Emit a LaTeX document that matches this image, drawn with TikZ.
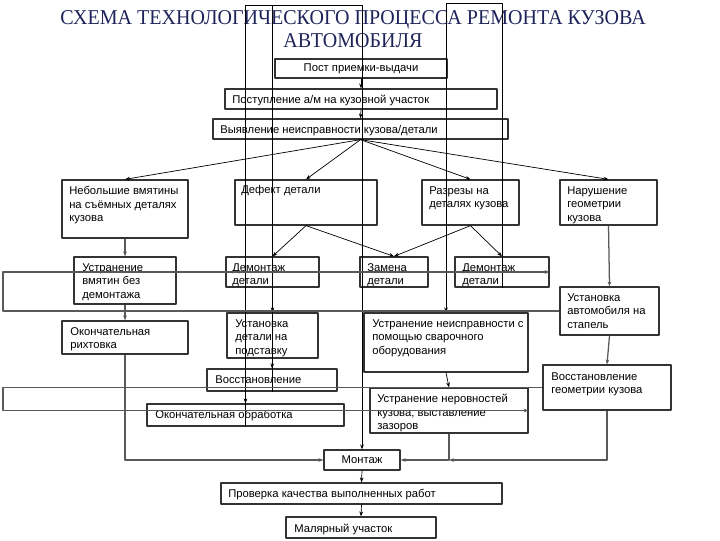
\documentclass[tikz,border=0pt]{standalone}
\usepackage{fontspec}
\setmainfont{Liberation Sans}
\newfontfamily\titlefont[FakeStretch=0.95]{Liberation Serif}
\usetikzlibrary{fit,arrows.meta}
\definecolor{navy}{RGB}{30,36,90}
\tikzset{
  box/.style={draw=black!80, line width=0.9pt, inner sep=0pt},
  txt/.style={anchor=north west, inner sep=0pt, align=left, font=\fontsize{8}{9.6}\selectfont},
  ln/.style={line width=0.5pt},
  gln/.style={draw=black!65, line width=0.9pt},
}
\begin{document}
\begin{tikzpicture}[x=0.025cm, y=-0.025cm, >={Stealth[length=3.5pt,width=2.6pt]}, line join=round]
  \useasboundingbox (0,0) rectangle (720,540);
  \coordinate (top) at (0,5); \coordinate (rtop) at (0,3); \coordinate (lft) at (3,0);
  \node[font=\titlefont\fontsize{15}{16.2}\selectfont, text=navy, align=center] (title) at (353,29)
    {СХЕМА ТЕХНОЛОГИЧЕСКОГО ПРОЦЕССА РЕМОНТА КУЗОВА\\АВТОМОБИЛЯ};
  % boxes
  \node[box, fit={(275,59) (447,78)}] (post) {};
  \node[box, fit={(225,89) (497,109)}] (postup) {};
  \node[box, fit={(213,119) (508,139)}] (vyav) {};
  \node[box, fit={(62,180) (188,238)}] (small) {};
  \node[box, fit={(235,180) (377,225)}] (defect) {};
  \node[box, fit={(422,180) (519,225)}] (razr) {};
  \node[box, fit={(560,180) (657,225)}] (geom) {};
  \node[box, fit={(74,257) (176,304)}] (ustv) {};
  \node[box, fit={(226,257) (319,287)}] (dem1) {};
  \node[box, fit={(360,257) (428,287)}] (zam) {};
  \node[box, fit={(455,257) (549,287)}] (dem2) {};
  \node[box, fit={(560,287) (659,335)}] (stap) {};
  \node[box, fit={(62,321) (188,354)}] (rih) {};
  \node[box, fit={(227,313) (318,358)}] (ustd) {};
  \node[box, fit={(364,313) (528,372)}] (svar) {};
  \node[box, fit={(207,369) (337,391)}] (vost) {};
  \node[box, fit={(543,365) (671,410)}] (vgeo) {};
  \node[box, fit={(370,388) (528,433)}] (nerov) {};
  \node[box, fit={(147,404) (344,426)}] (obr) {};
  \node[box, fit={(324,450) (400,470)}] (mont) {};
  \node[box, fit={(221,483) (502,504)}] (prov) {};
  \node[box, fit={(286,517) (436,538)}] (mal) {};
  % texts
  \node[txt, anchor=center] (post-t) at (post.center) {Пост приемки-выдачи};
  \node[txt] (postup-t) at (232,95) {Поступление а/м на кузовной участок};
  \node[txt] (vyav-t) at (220,125) {Выявление неисправности кузова/детали};
  \node[txt] (small-t) at (69,186) {Небольшие вмятины\\на съёмных деталях\\кузова};
  \node[txt] (defect-t) at (241,185) {Дефект детали};
  \node[txt] (razr-t) at (429,186) {Разрезы на\\деталях кузова};
  \node[txt] (geom-t) at (567,186) {Нарушение\\геометрии\\кузова};
  \node[txt] (ustv-t) at (82,263) {Устранение\\вмятин без\\демонтажа};
  \node[txt] (dem1-t) at (232,263) {Демонтаж\\детали};
  \node[txt] (zam-t) at (367,263) {Замена\\детали};
  \node[txt] (dem2-t) at (462,263) {Демонтаж\\детали};
  \node[txt] (stap-t) at (567,293) {Установка\\автомобиля на\\стапель};
  \node[txt] (rih-t) at (70,327) {Окончательная\\рихтовка};
  \node[txt] (ustd-t) at (235,319) {Установка\\детали на\\подставку};
  \node[txt] (svar-t) at (372,319) {Устранение неисправности с\\помощью сварочного\\оборудования};
  \node[txt] (vost-t) at (215,375) {Восстановление};
  \node[txt] (vgeo-t) at (551,372) {Восстановление\\геометрии кузова};
  \node[txt] (nerov-t) at (377,394) {Устранение неровностей\\кузова, выставление\\зазоров};
  \node[txt] (obr-t) at (155,410) {Окончательная обработка};
  \node[txt, anchor=center] (mont-t) at (mont.center) {Монтаж};
  \node[txt] (prov-t) at (228,489) {Проверка качества выполненных работ};
  \node[txt] (mal-t) at (294,524) {Малярный участок};
  % connectors
  \draw[->, ln] (post.south) -- (postup.north);
  \draw[->, ln] (postup.south) -- (vyav.north);
  \foreach \n in {small,defect,razr,geom}
    \draw[->, ln] (vyav.south) -- (\n.north);
  \foreach \n in {dem1,zam}
    \draw[->, ln] (defect.south) -- (\n.north);
  \foreach \n in {zam,dem2}
    \draw[->, ln] (razr.south) -- (\n.north);
  \draw[->, gln] (small.south) -- (ustv.north);
  \draw[->, gln] (ustv.south) -- (rih.north);
  \draw[->, gln] (rih.south) |- (mont.west);
  \draw[->, gln] (geom.south) -- (stap.north);
  \draw[->, gln] (stap.south) -- (vgeo.north);
  \draw[->, ln] (dem1.south) -- (ustd.north);
  \draw[->, ln] (ustd.south) -- (vost.north);
  \draw[->, ln] (svar.south) -- (nerov.north);
  \draw[->, gln] (vgeo.south) |- (nerov.south |- mont.east);
  \draw[->, gln] (nerov.south) |- (mont.east);
  \draw[->, ln] (mont.south) -- (prov.north);
  \draw[->, ln] (prov.south) -- (mal.north);
  % long loops
  \draw[->, ln] (obr.south) -- (obr.south |- top) -| (mont.north);
  \draw[ln] (vost.south) -- (vost.south |- top);
  \draw[->, ln] (obr.north |- vost.south) -- (obr.north);
  \draw[->, ln] (dem2.south) -- (dem2.south |- rtop) -| (svar.north);
  \draw[->, gln] (stap.west) -- (stap.west -| lft) |- (dem2.east);
  \draw[->, gln] (vgeo.west) -- (vgeo.west -| lft) |- (nerov.east);
\end{tikzpicture}
\end{document}
